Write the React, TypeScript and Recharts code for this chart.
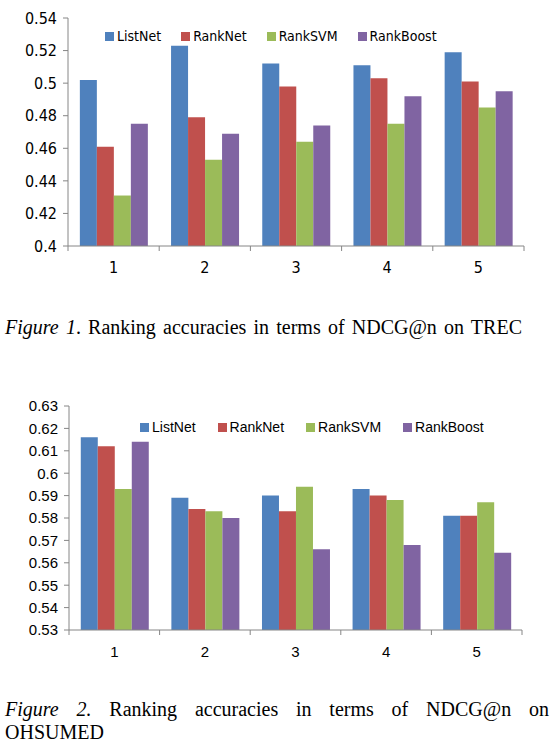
import React from 'react';
import { BarChart, Bar, XAxis, YAxis, Legend } from 'recharts';

const categories = ['1', '2', '3', '4', '5'];
const seriesNames = ['ListNet', 'RankNet', 'RankSVM', 'RankBoost'];

// Figure 1 - TREC
const trecListNet = [0.502, 0.523, 0.512, 0.511, 0.519];
const trecRankNet = [0.461, 0.479, 0.498, 0.503, 0.501];
const trecRankSVM = [0.431, 0.453, 0.464, 0.475, 0.485];
const trecRankBoost = [0.475, 0.469, 0.474, 0.492, 0.495];
const trecTicks = [0.4, 0.42, 0.44, 0.46, 0.48, 0.5, 0.52, 0.54];

// Figure 2 - OHSUMED
const ohsListNet = [0.616, 0.589, 0.590, 0.593, 0.581];
const ohsRankNet = [0.612, 0.584, 0.583, 0.590, 0.581];
const ohsRankSVM = [0.593, 0.583, 0.594, 0.588, 0.587];
const ohsRankBoost = [0.614, 0.580, 0.566, 0.568, 0.5645];
const ohsTicks = [0.53, 0.54, 0.55, 0.56, 0.57, 0.58, 0.59, 0.6, 0.61, 0.62, 0.63];

const COLORS = ['#4F81BD', '#C0504D', '#9BBB59', '#8064A2'];

const buildRows = (lists: number[][]) =>
  categories.map((n, i) => {
    const row: Record<string, string | number> = { n };
    seriesNames.forEach((s, k) => {
      row[s] = lists[k][i];
    });
    return row;
  });

const trecData = buildRows([trecListNet, trecRankNet, trecRankSVM, trecRankBoost]);
const ohsData = buildRows([ohsListNet, ohsRankNet, ohsRankSVM, ohsRankBoost]);

interface ChartProps {
  data: Record<string, string | number>[];
  ticks: number[];
  height: number;
  margin: { top: number; right: number; left: number; bottom: number };
  yWidth: number;
  font: string;
  fontSize: number;
  legendFontSize: number;
  frame: string;
  legendPos: { top: number; left: number };
  legendGap: number;
  labelDy: number;
}

const AXIS = '#868686';
const WIDTH = 559;

const NdcgChart: React.FC<ChartProps> = (p) => {
  const band = (WIDTH - p.margin.left - p.margin.right - p.yWidth) / categories.length;
  const last = categories[categories.length - 1];

  const renderTick = (props: any) => {
    const { x, y, payload } = props;
    return (
      <g>
        <line x1={x - band / 2} x2={x - band / 2} y1={y} y2={y + 5} stroke={AXIS} />
        {payload.value === last && (
          <line x1={x + band / 2} x2={x + band / 2} y1={y} y2={y + 5} stroke={AXIS} />
        )}
        <text x={x} y={y + p.labelDy} textAnchor="middle" fill="#000"
          style={{ fontFamily: p.font, fontSize: p.fontSize }}>
          {payload.value}
        </text>
      </g>
    );
  };

  // keep series order as drawn (recharts would sort the payload by name)
  const renderLegend = () => (
    <div style={{ display: 'flex', fontFamily: p.font, fontSize: p.legendFontSize, lineHeight: '18px', color: '#000', whiteSpace: 'nowrap' }}>
      {seriesNames.map((s, k) => (
        <div key={s} style={{ display: 'flex', alignItems: 'center', marginRight: p.legendGap }}>
          <span style={{ width: 9, height: 9, background: COLORS[k], marginRight: 3, display: 'inline-block' }} />
          <span>{s}</span>
        </div>
      ))}
    </div>
  );

  return (
    <BarChart width={WIDTH} height={p.height} data={p.data} margin={p.margin} barCategoryGap="13%" barGap={0}>
      <XAxis dataKey="n" interval={0} tickLine={false} tickSize={0} tickMargin={0} height={30}
        axisLine={{ stroke: AXIS }} tick={renderTick} />
      <XAxis xAxisId="frame" dataKey="n" orientation="top" height={0} tick={false} tickLine={false}
        axisLine={{ stroke: p.frame }} />
      <YAxis domain={[p.ticks[0], p.ticks[p.ticks.length - 1]]} ticks={p.ticks} interval={0}
        width={p.yWidth} tickSize={5} tickMargin={6} axisLine={{ stroke: AXIS }} tickLine={{ stroke: AXIS }}
        tick={{ fill: '#000', fontFamily: p.font, fontSize: p.fontSize }} />
      <YAxis yAxisId="frame" orientation="right" width={0} domain={[p.ticks[0], p.ticks[p.ticks.length - 1]]}
        tick={false} tickLine={false} axisLine={{ stroke: p.frame }} />
      <Legend layout="horizontal" verticalAlign="middle" align="center"
        wrapperStyle={{ top: p.legendPos.top, left: p.legendPos.left, width: 'auto' }} content={renderLegend} />
      {seriesNames.map((s, k) => (
        <Bar key={s} dataKey={s} name={s} fill={COLORS[k]} isAnimationActive={false} />
      ))}
    </BarChart>
  );
};

const caption: React.CSSProperties = {
  fontFamily: '"Liberation Serif", "Times New Roman", serif',
  fontSize: 20,
  lineHeight: '23px',
  color: '#000',
  position: 'absolute',
  left: 5,
  width: 544,
};

export default function App() {
  return (
    <div style={{ position: 'absolute', left: 0, top: 0, width: WIDTH, height: 753, background: '#fff' }}>
      <div style={{ position: 'absolute', left: 0, top: 0 }}>
        <NdcgChart data={trecData} ticks={trecTicks} height={290}
          margin={{ top: 18, right: 35, left: 0, bottom: 14 }} yWidth={68}
          font='"Liberation Sans Narrow", "DejaVu Sans Condensed", Arial, sans-serif' fontSize={16}
          legendFontSize={14} frame="#BFBFBF" legendPos={{ top: 27, left: 105 }} legendGap={20} labelDy={27} />
      </div>
      <div style={{ ...caption, top: 316, width: 517, textAlignLast: 'justify' }}>
        <i>Figure 1</i>. Ranking accuracies in terms of NDCG@n on TREC
      </div>
      <div style={{ position: 'absolute', left: 0, top: 390 }}>
        <NdcgChart data={ohsData} ticks={ohsTicks} height={270}
          margin={{ top: 16, right: 37, left: 0, bottom: 0 }} yWidth={69}
          font='"Liberation Sans", Arial, sans-serif' fontSize={15}
          legendFontSize={14} frame="#A6A6A6" legendPos={{ top: 28, left: 140 }} legendGap={22} labelDy={27} />
      </div>
      <div style={{ ...caption, top: 698, textAlignLast: 'justify' }}>
        <i>Figure 2.</i> Ranking accuracies in terms of NDCG@n on
      </div>
      <div style={{ ...caption, top: 721 }}>OHSUMED</div>
    </div>
  );
}
